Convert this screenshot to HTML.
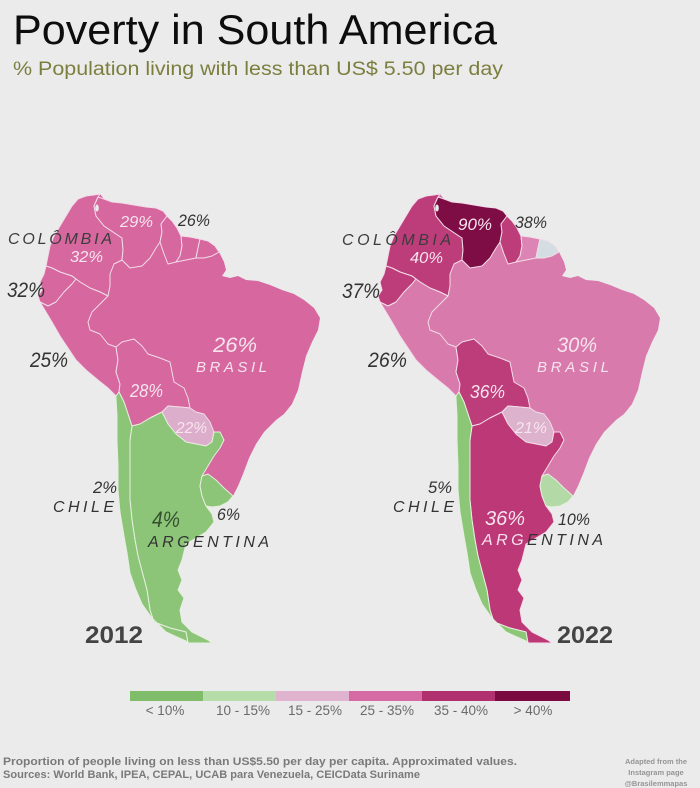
<!DOCTYPE html>
<html>
<head>
<meta charset="utf-8">
<style>
html,body{margin:0;padding:0;background:#ebebeb;}
svg{display:block;}
text{font-family:"Liberation Sans",Arial,sans-serif;}
.it{font-style:italic;}
</style>
</head>
<body>
<svg width="700" height="788" viewBox="0 0 700 788" xmlns="http://www.w3.org/2000/svg">
<rect x="0" y="0" width="700" height="788" fill="#ebebeb"/>

<text x="13" y="44" font-size="42" fill="#0d0d0d" textLength="484" lengthAdjust="spacingAndGlyphs">Poverty in South America</text>
<text x="13" y="75" font-size="19" fill="#7b7f3e" textLength="490" lengthAdjust="spacingAndGlyphs">% Population living with less than US$ 5.50 per day</text>

<!-- LEFT MAP 2012 -->
<g stroke="#f2dde9" stroke-width="1" stroke-linejoin="round">
<path fill="#d6679f" stroke="none" d="M100,194 L104,199 L112,202 L122,203 L134,205 L146,207 L156,208 L163,211 L167,216 L172,221 L177,228 L181,236 L190,237 L200,239 L208,241 L215,246 L219,252 L224,262 L226,270 L222,276 L230,278 L238,276 L246,280 L258,281 L270,285 L282,290 L294,294 L304,300 L314,308 L320,318 L318,330 L312,342 L306,356 L302,372 L298,390 L292,404 L284,414 L276,420 L264,432 L256,444 L249,458 L243,474 L238,486 L233,496 L228,502 L220,506 L212,507 L206,506 L212,514 L214,522 L206,532 L196,538 L186,544 L184,552 L182,560 L178,570 L182,580 L178,590 L184,598 L180,610 L182,622 L192,632 L208,640 L212,643 L188,643 L186,641 L166,632 L152,618 L142,604 L136,590 L130,573 L127,553 L124,536 L120,512 L118,490 L118,466 L117,440 L117,416 L116,398 L116,396 L108,388 L98,380 L86,370 L76,360 L68,348 L60,336 L52,322 L46,312 L40,302 L38,296 L42,290 L40,282 L44,274 L46,266 L48,256 L50,246 L54,236 L60,226 L66,216 L72,206 L78,199 L86,196 L94,195 Z"/>
<path fill="#d6679f" d="M98,197 L94,206 L96,216 L104,226 L116,234 L122,238 L123,250 L122,260 L114,264 L110,274 L110,286 L108,296 L100,292 L90,288 L80,282 L72,276 L60,272 L52,268 L46,266 L48,256 L50,246 L54,236 L60,226 L66,216 L72,206 L78,199 L86,196 L94,195 L100,194 Z"/>
<path fill="#d6679f" d="M98,197 L104,199 L112,202 L122,203 L134,205 L146,207 L156,208 L163,211 L167,216 L161,224 L162,232 L160,242 L156,248 L150,258 L142,266 L130,268 L122,260 L123,250 L122,238 L116,234 L104,226 L96,216 L94,206 Z"/>
<path fill="#d6679f" d="M167,216 L172,221 L177,228 L181,236 L182,246 L180,256 L176,262 L168,264 L164,254 L160,242 L162,232 L161,224 Z"/>
<path fill="#d6679f" d="M181,236 L190,237 L200,239 L198,248 L196,258 L186,260 L176,262 L180,256 L182,246 Z"/>
<path fill="#d6679f" d="M200,239 L208,241 L215,246 L219,252 L212,256 L204,258 L196,258 L198,248 Z"/>
<path fill="#d6679f" d="M46,266 L52,268 L60,272 L72,276 L76,279 L72,284 L64,292 L56,302 L48,306 L40,302 L38,296 L42,290 L40,282 L44,274 Z"/>
<path fill="#d6679f" d="M40,302 L48,306 L56,302 L64,292 L72,284 L76,279 L72,276 L80,282 L90,288 L100,292 L108,296 L100,304 L92,312 L88,322 L90,330 L100,334 L108,344 L116,347 L118,360 L116,372 L120,384 L119,392 L116,396 L108,388 L98,380 L86,370 L76,360 L68,348 L60,336 L52,322 L46,312 Z"/>
<path fill="#d6679f" d="M116,347 L122,342 L134,339 L142,346 L148,354 L160,358 L170,362 L172,372 L174,382 L184,388 L188,398 L190,408 L180,407 L168,406 L162,412 L150,418 L140,424 L132,426 L128,414 L124,402 L119,392 L120,384 L116,372 L118,360 Z"/>
<path fill="#dcaecb" d="M162,412 L168,406 L180,407 L190,408 L196,412 L204,414 L210,422 L214,432 L212,442 L206,446 L196,444 L186,442 L176,434 L168,424 Z"/>
<path fill="#8cc578" stroke="#e6efdf" d="M132,426 L140,424 L150,418 L162,412 L168,424 L176,434 L186,442 L196,444 L206,446 L212,442 L214,432 L220,432 L224,440 L220,448 L214,456 L208,466 L202,476 L200,486 L202,496 L206,506 L212,514 L214,522 L206,532 L196,538 L186,544 L184,552 L182,560 L178,570 L182,580 L178,590 L184,598 L180,610 L182,622 L192,632 L208,640 L212,643 L188,643 L186,632 L170,628 L154,622 L150,610 L147,590 L143,575 L138,556 L135,540 L132,520 L130,500 L130,480 L130,460 L130,440 Z"/>
<path fill="#8cc578" stroke="#e6efdf" d="M119,392 L124,402 L128,414 L132,426 L130,440 L130,460 L130,480 L130,500 L132,520 L135,540 L138,556 L143,575 L147,590 L150,610 L154,622 L170,628 L186,632 L188,643 L186,641 L166,632 L152,618 L142,604 L136,590 L130,573 L127,553 L124,536 L120,512 L118,490 L118,466 L117,440 L117,416 L116,398 L116,396 Z"/>
<path fill="#8cc578" stroke="#e6efdf" d="M202,476 L208,474 L216,480 L224,488 L233,496 L228,502 L220,506 L212,507 L206,506 L202,496 L200,486 Z"/>
<ellipse cx="97" cy="208" rx="1.8" ry="3.5" fill="#ebebeb" stroke="none"/>
</g>

<!-- RIGHT MAP 2022 -->
<g transform="translate(340,0)" stroke="#f2dde9" stroke-width="1" stroke-linejoin="round">
<path fill="#d97aac" stroke="none" d="M100,194 L104,199 L112,202 L122,203 L134,205 L146,207 L156,208 L163,211 L167,216 L172,221 L177,228 L181,236 L190,237 L200,239 L208,241 L215,246 L219,252 L224,262 L226,270 L222,276 L230,278 L238,276 L246,280 L258,281 L270,285 L282,290 L294,294 L304,300 L314,308 L320,318 L318,330 L312,342 L306,356 L302,372 L298,390 L292,404 L284,414 L276,420 L264,432 L256,444 L249,458 L243,474 L238,486 L233,496 L228,502 L220,506 L212,507 L206,506 L212,514 L214,522 L206,532 L196,538 L186,544 L184,552 L182,560 L178,570 L182,580 L178,590 L184,598 L180,610 L182,622 L192,632 L208,640 L212,643 L188,643 L186,641 L166,632 L152,618 L142,604 L136,590 L130,573 L127,553 L124,536 L120,512 L118,490 L118,466 L117,440 L117,416 L116,398 L116,396 L108,388 L98,380 L86,370 L76,360 L68,348 L60,336 L52,322 L46,312 L40,302 L38,296 L42,290 L40,282 L44,274 L46,266 L48,256 L50,246 L54,236 L60,226 L66,216 L72,206 L78,199 L86,196 L94,195 Z"/>
<path fill="#bd3d7b" d="M98,197 L94,206 L96,216 L104,226 L116,234 L122,238 L123,250 L122,260 L114,264 L110,274 L110,286 L108,296 L100,292 L90,288 L80,282 L72,276 L60,272 L52,268 L46,266 L48,256 L50,246 L54,236 L60,226 L66,216 L72,206 L78,199 L86,196 L94,195 L100,194 Z"/>
<path fill="#7e0d45" d="M98,197 L104,199 L112,202 L122,203 L134,205 L146,207 L156,208 L163,211 L167,216 L161,224 L162,232 L160,242 L156,248 L150,258 L142,266 L130,268 L122,260 L123,250 L122,238 L116,234 L104,226 L96,216 L94,206 Z"/>
<path fill="#bd3d7b" d="M167,216 L172,221 L177,228 L181,236 L182,246 L180,256 L176,262 L168,264 L164,254 L160,242 L162,232 L161,224 Z"/>
<path fill="#dc84b3" d="M181,236 L190,237 L200,239 L198,248 L196,258 L186,260 L176,262 L180,256 L182,246 Z"/>
<path fill="#d3dde2" d="M200,239 L208,241 L215,246 L219,252 L212,256 L204,258 L196,258 L198,248 Z"/>
<path fill="#bd3d7b" d="M46,266 L52,268 L60,272 L72,276 L76,279 L72,284 L64,292 L56,302 L48,306 L40,302 L38,296 L42,290 L40,282 L44,274 Z"/>
<path fill="#d97aac" d="M40,302 L48,306 L56,302 L64,292 L72,284 L76,279 L72,276 L80,282 L90,288 L100,292 L108,296 L100,304 L92,312 L88,322 L90,330 L100,334 L108,344 L116,347 L118,360 L116,372 L120,384 L119,392 L116,396 L108,388 L98,380 L86,370 L76,360 L68,348 L60,336 L52,322 L46,312 Z"/>
<path fill="#bd3d7b" d="M116,347 L122,342 L134,339 L142,346 L148,354 L160,358 L170,362 L172,372 L174,382 L184,388 L188,398 L190,408 L180,407 L168,406 L162,412 L150,418 L140,424 L132,426 L128,414 L124,402 L119,392 L120,384 L116,372 L118,360 Z"/>
<path fill="#ddb2cc" d="M162,412 L168,406 L180,407 L190,408 L196,412 L204,414 L210,422 L214,432 L212,442 L206,446 L196,444 L186,442 L176,434 L168,424 Z"/>
<path fill="#bd3877" d="M132,426 L140,424 L150,418 L162,412 L168,424 L176,434 L186,442 L196,444 L206,446 L212,442 L214,432 L220,432 L224,440 L220,448 L214,456 L208,466 L202,476 L200,486 L202,496 L206,506 L212,514 L214,522 L206,532 L196,538 L186,544 L184,552 L182,560 L178,570 L182,580 L178,590 L184,598 L180,610 L182,622 L192,632 L208,640 L212,643 L188,643 L186,632 L170,628 L154,622 L150,610 L147,590 L143,575 L138,556 L135,540 L132,520 L130,500 L130,480 L130,460 L130,440 Z"/>
<path fill="#8cc778" stroke="#e6efdf" d="M119,392 L124,402 L128,414 L132,426 L130,440 L130,460 L130,480 L130,500 L132,520 L135,540 L138,556 L143,575 L147,590 L150,610 L154,622 L170,628 L186,632 L188,643 L186,641 L166,632 L152,618 L142,604 L136,590 L130,573 L127,553 L124,536 L120,512 L118,490 L118,466 L117,440 L117,416 L116,398 L116,396 Z"/>
<path fill="#b3d9a6" stroke="#e6efdf" d="M202,476 L208,474 L216,480 L224,488 L233,496 L228,502 L220,506 L212,507 L206,506 L202,496 L200,486 Z"/>
<ellipse cx="97" cy="208" rx="1.8" ry="3.5" fill="#ebebeb" stroke="none"/>
</g>

<!-- LEFT LABELS -->
<g class="it">
<text x="8" y="244" font-size="16" fill="#3c3c3c" textLength="104" lengthAdjust="spacing">COLÔMBIA</text>
<text x="70" y="262" font-size="16" fill="#f7e4ee" textLength="33" lengthAdjust="spacingAndGlyphs">32%</text>
<text x="120" y="227" font-size="16" fill="#f7e4ee" textLength="33" lengthAdjust="spacingAndGlyphs">29%</text>
<text x="178" y="226" font-size="17" fill="#333" textLength="32" lengthAdjust="spacingAndGlyphs">26%</text>
<text x="7" y="297" font-size="21" fill="#333" textLength="38" lengthAdjust="spacingAndGlyphs">32%</text>
<text x="30" y="367" font-size="21" fill="#333" textLength="38" lengthAdjust="spacingAndGlyphs">25%</text>
<text x="213" y="352" font-size="21" fill="#f7e4ee" textLength="44" lengthAdjust="spacingAndGlyphs">26%</text>
<text x="196" y="372" font-size="15" fill="#f7e4ee" textLength="71" lengthAdjust="spacing">BRASIL</text>
<text x="130" y="397" font-size="18" fill="#f7e4ee" textLength="33" lengthAdjust="spacingAndGlyphs">28%</text>
<text x="176" y="433" font-size="16" fill="#f7e4ee" textLength="31" lengthAdjust="spacingAndGlyphs">22%</text>
<text x="93" y="493" font-size="17" fill="#333" textLength="24" lengthAdjust="spacingAndGlyphs">2%</text>
<text x="53" y="512" font-size="16" fill="#333" textLength="61" lengthAdjust="spacing">CHILE</text>
<text x="152" y="527" font-size="22" fill="#34502f" textLength="28" lengthAdjust="spacingAndGlyphs">4%</text>
<text x="217" y="520" font-size="17" fill="#333" textLength="23" lengthAdjust="spacingAndGlyphs">6%</text>
<text x="148" y="547" font-size="16" fill="#333" textLength="121" lengthAdjust="spacing">ARGENTINA</text>
</g>
<text x="85" y="643" font-size="24" font-weight="bold" fill="#444" textLength="58" lengthAdjust="spacingAndGlyphs">2012</text>

<!-- RIGHT LABELS -->
<g class="it">
<text x="342" y="245" font-size="16" fill="#3c3c3c" textLength="109" lengthAdjust="spacing">COLÔMBIA</text>
<text x="458" y="230" font-size="17" fill="#f7e4ee" textLength="34" lengthAdjust="spacingAndGlyphs">90%</text>
<text x="515" y="228" font-size="17" fill="#333" textLength="32" lengthAdjust="spacingAndGlyphs">38%</text>
<text x="410" y="263" font-size="16" fill="#f7e4ee" textLength="33" lengthAdjust="spacingAndGlyphs">40%</text>
<text x="342" y="298" font-size="21" fill="#333" textLength="38" lengthAdjust="spacingAndGlyphs">37%</text>
<text x="368" y="367" font-size="21" fill="#333" textLength="39" lengthAdjust="spacingAndGlyphs">26%</text>
<text x="557" y="352" font-size="21" fill="#f7e4ee" textLength="40" lengthAdjust="spacingAndGlyphs">30%</text>
<text x="537" y="372" font-size="15" fill="#f7e4ee" textLength="72" lengthAdjust="spacing">BRASIL</text>
<text x="470" y="398" font-size="18" fill="#f7e4ee" textLength="35" lengthAdjust="spacingAndGlyphs">36%</text>
<text x="515" y="433" font-size="16" fill="#f7e4ee" textLength="32" lengthAdjust="spacingAndGlyphs">21%</text>
<text x="428" y="493" font-size="17" fill="#333" textLength="24" lengthAdjust="spacingAndGlyphs">5%</text>
<text x="393" y="512" font-size="16" fill="#333" textLength="61" lengthAdjust="spacing">CHILE</text>
<text x="485" y="525" font-size="20" fill="#f7e4ee" textLength="40" lengthAdjust="spacingAndGlyphs">36%</text>
<text x="558" y="525" font-size="17" fill="#333" textLength="32" lengthAdjust="spacingAndGlyphs">10%</text>
<text x="482" y="545" font-size="16" fill="#333" textLength="121" lengthAdjust="spacing"><tspan fill="#f7e4ee">ARG</tspan>ENTINA</text>
</g>
<text x="557" y="643" font-size="24" font-weight="bold" fill="#444" textLength="56" lengthAdjust="spacingAndGlyphs">2022</text>

<!-- LEGEND -->
<rect x="130" y="691" width="73" height="10" fill="#80bd6b"/>
<rect x="203" y="691" width="73" height="10" fill="#b6dca9"/>
<rect x="276" y="691" width="73" height="10" fill="#e0b3cf"/>
<rect x="349" y="691" width="73" height="10" fill="#d66aa5"/>
<rect x="422" y="691" width="73" height="10" fill="#b1306e"/>
<rect x="495" y="691" width="75" height="10" fill="#7a0a40"/>
<g font-size="13.5" fill="#6a6a6a" text-anchor="middle">
<text x="165" y="715">&lt; 10%</text>
<text x="243" y="715">10 - 15%</text>
<text x="315" y="715">15 - 25%</text>
<text x="387" y="715">25 - 35%</text>
<text x="461" y="715">35 - 40%</text>
<text x="533" y="715">&gt; 40%</text>
</g>

<!-- FOOTER -->
<text x="3" y="765" font-size="11" font-weight="bold" fill="#7a7a7a" textLength="514" lengthAdjust="spacingAndGlyphs">Proportion of people living on less than US$5.50 per day per capita. Approximated values.</text>
<text x="3" y="778" font-size="11" font-weight="bold" fill="#7a7a7a" textLength="417" lengthAdjust="spacingAndGlyphs">Sources: World Bank, IPEA, CEPAL, UCAB para Venezuela, CEICData Suriname</text>
<g font-size="7.5" font-weight="bold" fill="#959595" text-anchor="middle">
<text x="656" y="764">Adapted from the</text>
<text x="656" y="775">Instagram page</text>
<text x="656" y="786">@Brasilemmapas</text>
</g>
</svg>
</body>
</html>
